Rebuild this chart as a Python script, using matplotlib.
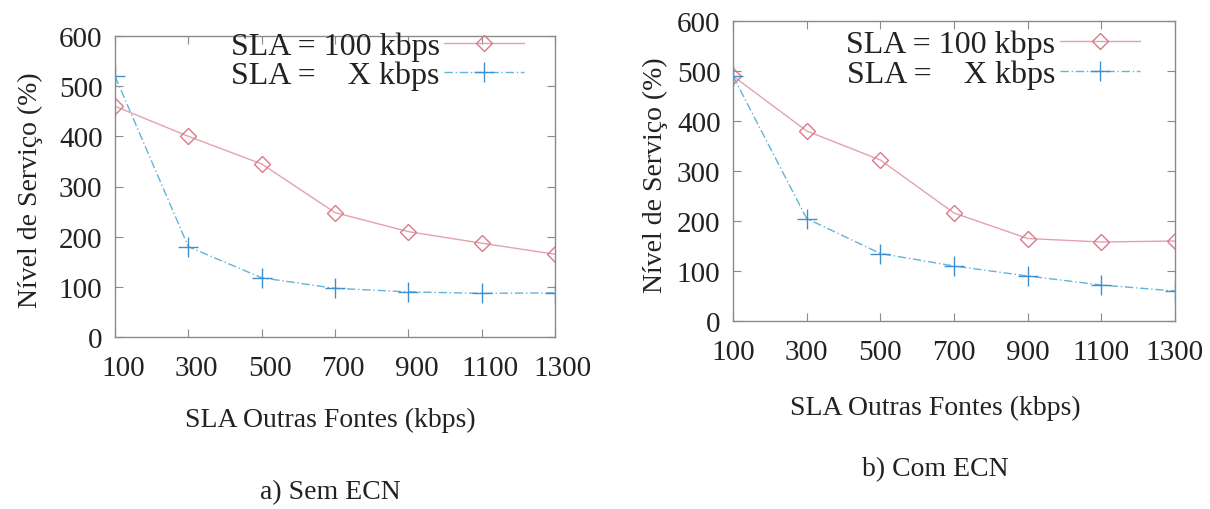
import matplotlib
matplotlib.use("Agg")
import matplotlib.pyplot as plt
from matplotlib.transforms import ScaledTranslation

# SLA of the other sources (kbps)
sla_outras = [100, 300, 500, 700, 900, 1100, 1300]
x_ticks = [100, 300, 500, 700, 900, 1100, 1300]
y_ticks = [0, 100, 200, 300, 400, 500, 600]

# a) without ECN
sem_ecn_100 = [460, 400, 345, 248, 210, 187, 165]
sem_ecn_x = [520, 180, 118, 97, 90, 87, 88]

# b) with ECN
com_ecn_100 = [490, 380, 322, 216, 165, 158, 160]
com_ecn_x = [490, 205, 135, 110, 90, 72, 60]

plt.rcParams["font.family"] = ["Liberation Serif", "DejaVu Serif"]
plt.rcParams["text.color"] = "#222222"

fig = plt.figure(figsize=(12.1, 5.1), dpi=100)

red_line = "#e2a3ad"
red_mark = "#d9798a"
blue_line = "#62b4d8"
blue_mark = "#3f8fd0"
frame = "#8a8a8a"

panels = [
    ([115 / 1210, 1 - 338 / 510, 440 / 1210, 301 / 510], sem_ecn_100, sem_ecn_x,
     "a) Sem ECN", 330, 493, 420, 30, 190, (0.93, 1.015), 8),
    ([733 / 1210, 1 - 322 / 510, 442 / 1210, 300 / 510], com_ecn_100, com_ecn_x,
     "b) Com ECN", 935, 470, 408, 655, 175, (0.92, 0.97), 0),
]

for rect, s100, sx, caption, cx, cy, xly, ylx, yly, leg_anchor, dx in panels:
    ax = fig.add_axes(rect)
    ax.plot(sla_outras, s100, color=red_line, lw=1.0, marker="D", ms=8,
            mfc="none", mec=red_mark, mew=1.0, label="SLA = 100 kbps")
    ax.plot(sla_outras, sx, color=blue_line, lw=1.0, ls=(0, (6, 2, 1, 2)),
            marker="+", ms=15, mec=blue_mark, mew=1.0, label="SLA =    X kbps")
    ax.set_xlim(100, 1300)
    ax.set_ylim(0, 600)
    ax.set_xticks(x_ticks)
    ax.set_yticks(y_ticks)
    ax.tick_params(direction="in", top=True, right=True, length=6,
                   color=frame, labelsize=21, labelcolor="#222222")
    ax.tick_params(axis="x", pad=13)
    ax.tick_params(axis="y", pad=9)
    # nudge the x tick labels to the right
    shift = ScaledTranslation(dx / 100, 0, fig.dpi_scale_trans)
    for lab in ax.get_xticklabels():
        lab.set_transform(lab.get_transform() + shift)
    for sp in ax.spines.values():
        sp.set_color(frame)
        sp.set_linewidth(1.0)
    leg = ax.legend(loc="upper right", bbox_to_anchor=leg_anchor,
                    frameon=False, markerfirst=False, numpoints=1,
                    handlelength=2.5, fontsize=23, labelspacing=0.0,
                    handletextpad=0.15, borderpad=0, borderaxespad=0)
    for t in leg.get_texts():
        t.set_horizontalalignment("right")
    fig.text(cx / 1210, 1 - xly / 510, "SLA Outras Fontes (kbps)",
             ha="center", va="center", fontsize=20)
    fig.text(ylx / 1210, 1 - yly / 510, "Nível de Serviço (%)",
             ha="center", va="center", rotation=90, fontsize=20)
    fig.text(cx / 1210, 1 - cy / 510, caption, ha="center", va="center",
             fontsize=20)

fig.savefig("out.png", dpi=100)
